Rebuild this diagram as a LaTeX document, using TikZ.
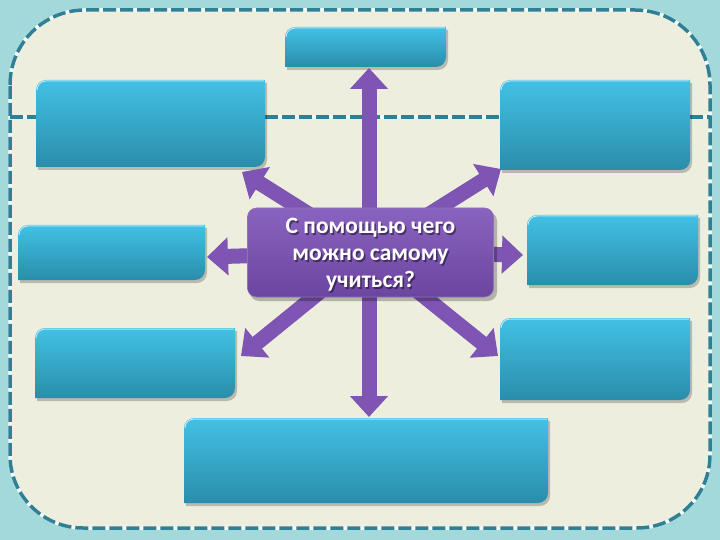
\documentclass[tikz,border=0pt]{standalone}
\usepackage{fontspec}
\setmainfont{Carlito}
\usetikzlibrary{arrows.meta}
\definecolor{bgteal}{HTML}{A3D9DA}
\definecolor{panel}{HTML}{EEEEDF}
\definecolor{dashc}{HTML}{2F7F95}
\definecolor{btop}{HTML}{42C1E5}
\definecolor{bbot}{HTML}{2A8DAA}
\definecolor{purp}{HTML}{7E55B3}
\definecolor{purpd}{HTML}{5E3A8E}
\definecolor{ptop}{HTML}{8A63C0}
\definecolor{pbot}{HTML}{6B45A0}
\tikzset{
  dashline/.style={line width=3.5pt, draw=dashc, dash pattern=on 13pt off 4pt},
  underline/.style={line width=3.5pt, draw=white!85!bgteal},
  arrowline/.style={line width=15pt, draw=purp, -{Triangle[width=37pt,length=21pt]}},
  bluebox/.style={top color=btop, bottom color=bbot},
  boxshadow/.style={fill=black, opacity=0.22},
  centerbox/.style={rounded corners=9pt, top color=ptop, bottom color=pbot, draw=purpd!70, line width=0.6pt,
    minimum width=246pt, minimum height=89pt},
  ctext/.style={align=center, font=\fontsize{23.5}{27}\selectfont\bfseries, inner sep=0pt}
}
\newcommand{\panelpath}{(10,85) .. controls (10,43.6) and (43.6,10) .. (85,10) -- (635,10) .. controls (676.4,10) and (710,43.6) .. (710,85) -- (710,455) .. controls (710,495.3) and (677.3,528) .. (637,528) -- (83,528) .. controls (42.7,528) and (10,495.3) .. (10,455) -- cycle}
\newcommand{\bbox}[5]{%
  \fill[boxshadow] (#1+2,#4+3) -- (#1+2,#2+13) .. controls (#1+2,#2+7.5) and (#1+6.5,#2+3) .. (#1+12,#2+3) -- (#3+2,#2+3) -- (#3+2,#4-7) .. controls (#3+2,#4-1.5) and (#3-2.5,#4+3) .. (#3-8,#4+3) -- cycle;
  \shade[bluebox] (#1,#4) -- (#1,#2+10) .. controls (#1,#2+4.5) and (#1+4.5,#2) .. (#1+10,#2) -- (#3,#2) -- (#3,#4-10) .. controls (#3,#4-4.5) and (#3-4.5,#4) .. (#3-10,#4) -- cycle;
  \draw[white!60!btop, line width=1pt] (#1+1,#2+10) .. controls (#1+1,#2+5) and (#1+5,#2+1) .. (#1+10,#2+1) -- (#3-1,#2+1);
  \coordinate (#5) at ({(#1+#3)/2},{(#2+#4)/2});
}
\begin{document}
\begin{tikzpicture}[x=1pt,y=-1pt]
\useasboundingbox (0,0) rectangle (720,540);
\fill[bgteal] (0,0) rectangle (720,540);
% panel
\fill[panel] \panelpath;
\draw[underline] \panelpath;
\draw[dashline] \panelpath;
% horizontal dashed line
\coordinate (hl) at (10,117);
\coordinate (hr) at (710,117);
\draw[underline] (hl) -- (hr);
\draw[dashline] (hl) -- (hr);
% boxes
\bbox{285}{27}{446}{67}{bTop}
\bbox{36}{80}{265}{167}{bTL}
\bbox{500}{80}{690}{170}{bTR}
\bbox{18}{225}{205}{280}{bL}
\bbox{527}{215}{698}{285}{bR}
\bbox{35}{328}{235}{398}{bBL}
\bbox{500}{318}{690}{400}{bBR}
\bbox{184}{418}{548}{503}{bB}
% arrows
\coordinate (c) at (369,252);
\coordinate (tU) at (369,68);
\coordinate (tD) at (369,417);
\coordinate (tL) at (207,257);
\coordinate (tR) at (523,255);
\coordinate (tUL) at (242,172);
\coordinate (tUR) at (501,169);
\coordinate (tDL) at (241,356);
\coordinate (tDR) at (498,356);
\foreach \t in {tU,tD,tL,tR,tUL,tUR,tDL,tDR}
  \draw[arrowline] (c) -- (\t);
% center
\fill[black, opacity=0.25, rounded corners=9pt] (250,212) rectangle (497,301);
\node[centerbox] (ctr) at (370.5,252.5) {};
\node[ctext, text=black, opacity=0.45] at (372,256.5) {С помощью чего\\можно самому\\учиться?};
\node[ctext, text=white] (ctxt) at (370.5,255) {С помощью чего\\можно самому\\учиться?};
\end{tikzpicture}
\end{document}
